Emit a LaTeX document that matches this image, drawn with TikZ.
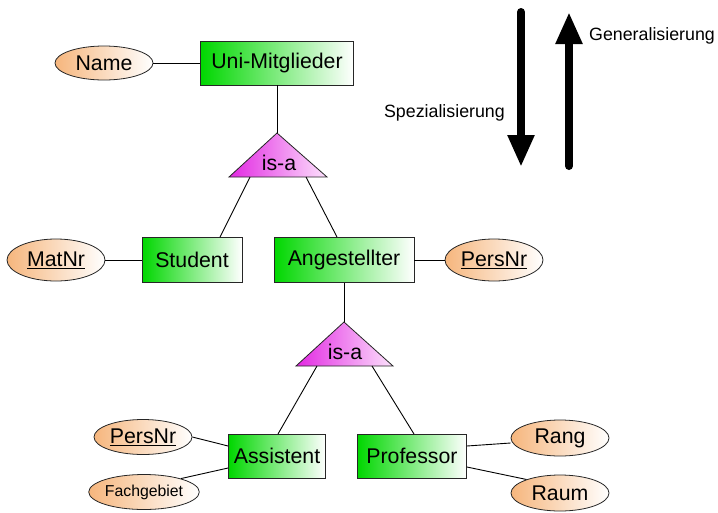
\documentclass[tikz,border=0pt]{standalone}
\usepackage{fontspec}
\setmainfont{Liberation Sans}
\usetikzlibrary{arrows.meta,shapes.geometric}
\definecolor{entgreen}{RGB}{0,215,0}
\definecolor{attrorange}{RGB}{246,182,125}
\definecolor{isamag}{RGB}{226,40,226}
\definecolor{isaend}{RGB}{252,225,252}
\begin{document}
\begin{tikzpicture}[x=1pt,y=-1pt,
  entity/.style={draw=black!85,line width=0.8pt,rectangle,left color=entgreen,right color=white,
    inner sep=0pt,font=\fontsize{21.3}{25}\selectfont},
  attr/.style={draw=black!85,line width=0.8pt,ellipse,left color=attrorange,right color=white,
    inner sep=0pt,minimum width=98pt,minimum height=37pt,font=\fontsize{21.3}{25}\selectfont},
  isatri/.style={draw=black!85,line width=0.8pt,left color=isamag,right color=isaend},
  link/.style={draw=black,line width=0.9pt},
  bigarrow/.style={line width=8pt,line cap=round,-{Triangle[width=25pt,length=32pt]}},
  caption/.style={font=\fontsize{17.8}{21}\selectfont,inner sep=0pt}
]
\useasboundingbox (0,0) rectangle (718,512);

% entities
\node[entity,minimum width=153pt,minimum height=44pt] (uni) at (277,63) {Uni-Mitglieder};
\node[entity,minimum width=100pt,minimum height=45pt] (student) at (192,260) {Student};
\node[entity,minimum width=140pt,minimum height=45pt] (angest) at (344,260) {Angestellter};
\node[entity,minimum width=97pt,minimum height=44pt] (assist) at (277,456) {Assistent};
\node[entity,minimum width=109pt,minimum height=44pt] (prof) at (412,456) {Professor};

% attributes
\node[attr,minimum height=34pt] (name) at (104,63) {Name};
\node[attr,minimum height=42pt] (matnr) at (56,260) {\underline{MatNr}};
\node[attr,minimum height=42pt] (persnr) at (494,260) {\underline{PersNr}};
\node[attr,minimum height=35pt] (persnrb) at (143,437) {\underline{PersNr}};
\node[attr,minimum height=35pt,font=\fontsize{15.8}{18}\selectfont] (fach) at (144,492) {Fachgebiet};
\node[attr,minimum height=36pt] (rang) at (560,438) {Rang};
\node[attr,minimum height=36pt] (raum) at (560,493) {Raum};

% first is-a triangle
\coordinate (t1top) at (277,133);
\coordinate (t1l) at (229,177);
\coordinate (t1r) at (327,177);
\coordinate (t1a) at (250,177);
\coordinate (t1b) at (306,177);
\path[isatri] (t1top) -- (t1r) -- (t1l) -- cycle;
\node[font=\fontsize{21.3}{25}\selectfont,inner sep=0pt] (isa1) at (279,163) {is-a};

% second is-a triangle
\coordinate (t2top) at (344,322);
\coordinate (t2l) at (296,366);
\coordinate (t2r) at (393,366);
\coordinate (t2a) at (317,366);
\coordinate (t2b) at (372,366);
\path[isatri] (t2top) -- (t2r) -- (t2l) -- cycle;
\node[font=\fontsize{21.3}{25}\selectfont,inner sep=0pt] (isa2) at (345,352) {is-a};

% connectors
\draw[link] (name) -- (uni);
\draw[link] (uni) -- (t1top);
\draw[link] (t1a) -- (220,237);
\draw[link] (t1b) -- (337,237);
\draw[link] (matnr) -- (student);
\draw[link] (angest) -- (persnr);
\draw[link] (angest) -- (t2top);
\draw[link] (t2a) -- (278,434);
\draw[link] (t2b) -- (414,434);
\draw[link] (persnrb.east) -- (assist.west |- 0,446);
\draw[link] (fach.20) -- (assist.west |- 0,468);
\draw[link] (prof.east |- 0,446) -- (rang.west |- 0,443);
\draw[link] (prof.east |- 0,467) -- (raum.158);

% direction arrows
\coordinate (spstart) at (521,12);
\coordinate (spend) at (521,167);
\coordinate (genstart) at (569,166);
\coordinate (genend) at (569,12);
\draw[bigarrow] (spstart) -- (spend);
\draw[bigarrow] (genstart) -- (genend);
\node[caption,anchor=east] (spez) at (505,113) {Spezialisierung};
\node[caption,anchor=west] (gen) at (589,36) {Generalisierung};
\end{tikzpicture}
\end{document}
